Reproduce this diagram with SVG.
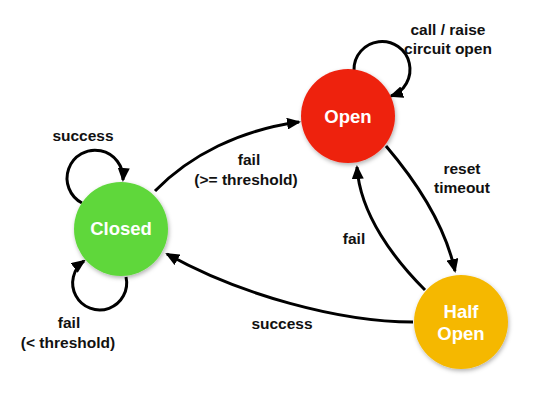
<svg xmlns="http://www.w3.org/2000/svg" width="533" height="400" viewBox="0 0 533 400">
<style>
.lbl{font-family:"Liberation Sans",Arial,sans-serif;font-weight:bold;font-size:15.5px;fill:#111;text-anchor:middle}
.ntx{font-family:"Liberation Sans",Arial,sans-serif;font-weight:bold;font-size:18.5px;fill:#fff;text-anchor:middle}
.edge{fill:none;stroke:#000;stroke-width:3;marker-end:url(#ah)}
</style>
<defs>
<marker id="ah" markerUnits="userSpaceOnUse" markerWidth="14" markerHeight="12" refX="12" refY="6" orient="auto">
<path d="M0,0 L14,6 L0,12 z" fill="#000"/>
</marker>
<filter id="sh" x="-20%" y="-20%" width="140%" height="140%">
<feDropShadow dx="1" dy="2" stdDeviation="2" flood-color="#000" flood-opacity="0.3"/>
</filter>
</defs>
<g id="connectors">
<path class="edge" d="M155,191 C190,155 240,130 299,122"/>
<path class="edge" d="M386,146 C415,180 445,225 455,271"/>
<path class="edge" d="M425,290 C395,260 360,215 357,167"/>
<path class="edge" d="M413,322 C340,322 240,295 167,254"/>
<path class="edge" d="M82,203 A28,28 0 1 1 123,180"/>
<path class="edge" d="M126,277 A27,27 0 1 1 84,261"/>
<path class="edge" d="M354,70 A28,28 0 1 1 391,96"/>
</g>
<g id="labels">
<text class="lbl" x="83" y="141">success</text>
<text class="lbl" x="448" y="35">call / raise</text>
<text class="lbl" x="448" y="54">circuit open</text>
<text class="lbl" x="249" y="165">fail</text>
<text class="lbl" x="246" y="185">(&gt;= threshold)</text>
<text class="lbl" x="462" y="174">reset</text>
<text class="lbl" x="462" y="193">timeout</text>
<text class="lbl" x="354" y="244">fail</text>
<text class="lbl" x="282" y="329">success</text>
<text class="lbl" x="69" y="328">fail</text>
<text class="lbl" x="68" y="348">(&lt; threshold)</text>
</g>
<g id="closed">
<circle cx="121" cy="229" r="47" fill="#5fd73b" filter="url(#sh)"/>
<text class="ntx" x="121" y="235">Closed</text>
</g>
<g id="open">
<circle cx="348" cy="116" r="47" fill="#ee2211" filter="url(#sh)"/>
<text class="ntx" x="348" y="123">Open</text>
</g>
<g id="halfopen">
<circle cx="461" cy="322" r="47" fill="#f5b800" filter="url(#sh)"/>
<text class="ntx" x="461" y="318">Half</text>
<text class="ntx" x="461" y="340">Open</text>
</g>
</svg>
